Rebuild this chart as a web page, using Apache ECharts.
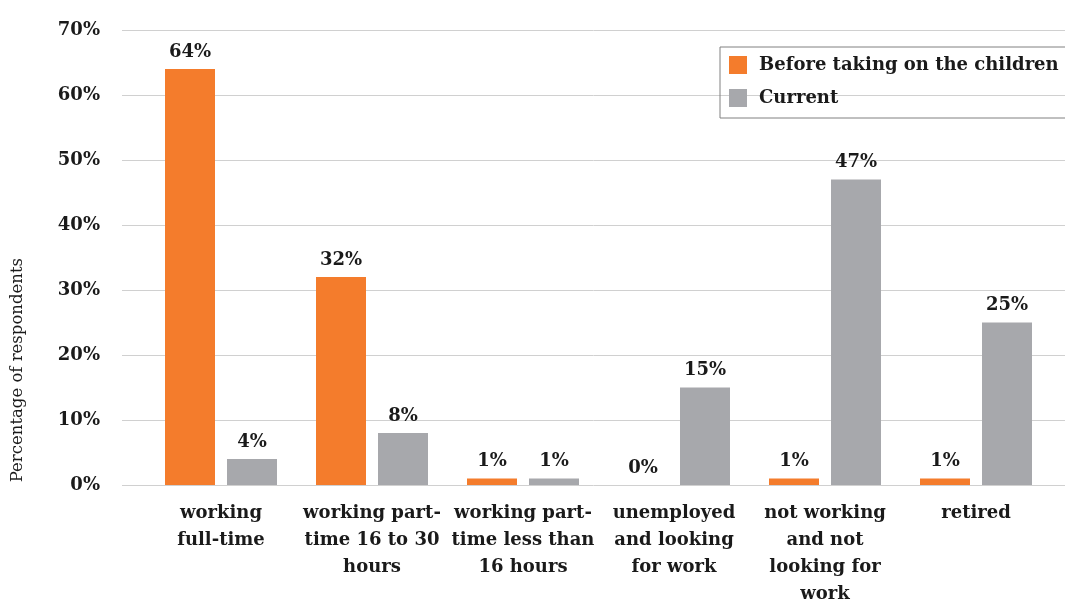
<!DOCTYPE html>
<html><head><meta charset="utf-8">
<script src="https://cdn.jsdelivr.net/npm/echarts@6/dist/echarts.min.js"></script>
<style>html,body{margin:0;padding:0;background:#fff}#c{width:1065px;height:601px}</style>
</head><body><div id="c"></div>
<script>
var categories = ["working\nfull-time", "working part-\ntime 16 to 30\nhours", "working part-\ntime less than\n16 hours", "unemployed\nand looking\nfor work", "not working\nand not\nlooking for\nwork", "retired"];
var seriesNames = ["Before taking on the children", "Current"];
var beforeValues = [64, 32, 1, 0, 1, 1];
var currentValues = [4, 8, 1, 15, 47, 25];
var yTicks = [0, 10, 20, 30, 40, 50, 60, 70];
var yAxisTitle = "Percentage of respondents";

var FONT = "DejaVu Serif";
var chart = echarts.init(document.getElementById('c'));
var labelStyle = {show: true, position: 'top', distance: 8, formatter: '{c}%', fontFamily: FONT, fontSize: 18, fontWeight: 'bold', color: '#1a1a1a'};
chart.setOption({
  animation: false,
  grid: [
    {left: 122, right: 0, top: 30, bottom: 116, containLabel: false, outerBoundsMode: 'none'},
    {left: 145.5, right: 13.5, top: 30, bottom: 116, containLabel: false, outerBoundsMode: 'none'}
  ],
  xAxis: [
    {gridIndex: 0, type: 'value', show: false, min: 0, max: 1},
    {gridIndex: 1, type: 'category', data: categories,
     axisLine: {show: false}, axisTick: {show: false},
     axisLabel: {fontFamily: FONT, fontSize: 18, fontWeight: 'bold', color: '#1a1a1a', lineHeight: 27, margin: 15, interval: 0}}
  ],
  yAxis: [
    {gridIndex: 0, type: 'value', min: 0, max: 70, interval: 10,
     axisLabel: {formatter: '{value}%', fontFamily: FONT, fontSize: 18, fontWeight: 'bold', color: '#1a1a1a', margin: 22},
     splitLine: {lineStyle: {color: '#d0d0d0', width: 1}},
     axisLine: {show: false}, axisTick: {show: false}},
    {gridIndex: 1, type: 'value', min: 0, max: 70, interval: 10, show: false, splitLine: {show: false}}
  ],
  legend: {
    orient: 'vertical', left: 720, top: 47, data: seriesNames,
    padding: [9, 40, 11, 9], itemGap: 15, itemWidth: 18, itemHeight: 18, icon: 'rect',
    borderColor: '#808080', borderWidth: 1,
    textStyle: {fontFamily: FONT, fontSize: 18, fontWeight: 'bold', color: '#1a1a1a', padding: [0, 0, 0, 7]}
  },
  graphic: [{type: 'text', left: 9, top: 258, rotation: Math.PI / 2,
    style: {text: yAxisTitle, font: '16.5px "DejaVu Serif"', fill: '#1a1a1a'}}],
  series: [
    {name: seriesNames[0], type: 'bar', xAxisIndex: 1, yAxisIndex: 1, data: beforeValues, barWidth: 50, barGap: '24%', itemStyle: {color: '#F47C2C'}, label: labelStyle},
    {name: seriesNames[1], type: 'bar', xAxisIndex: 1, yAxisIndex: 1, data: currentValues, barWidth: 50, barGap: '24%', itemStyle: {color: '#A7A8AC'}, label: labelStyle}
  ]
});
</script></body></html>
